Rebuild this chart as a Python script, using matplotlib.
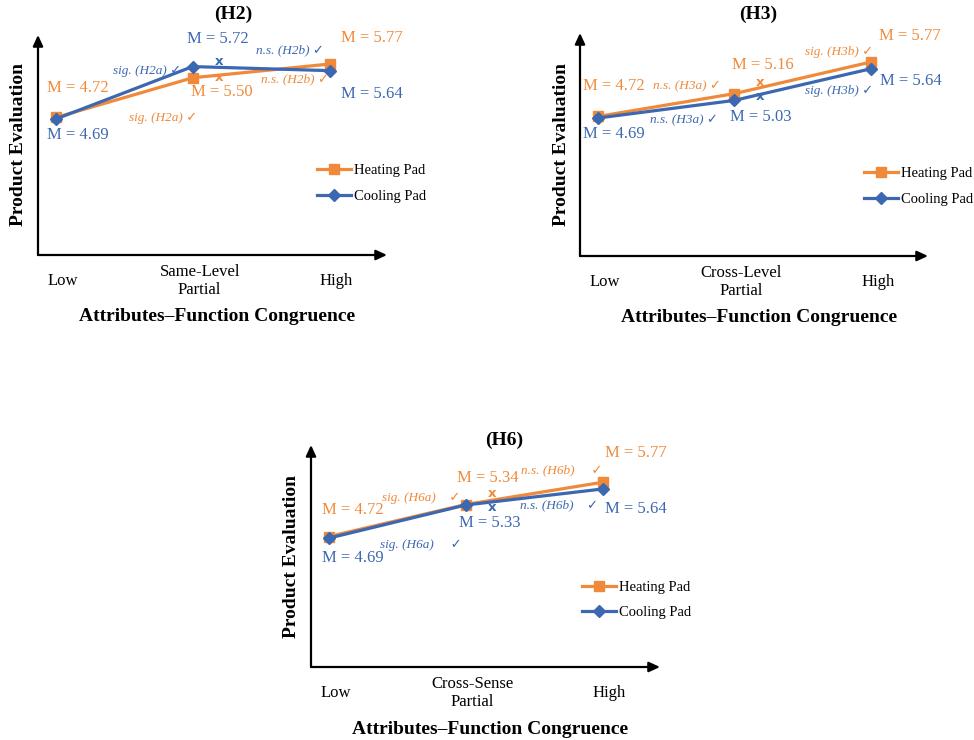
import matplotlib
matplotlib.use('Agg')
import matplotlib.pyplot as plt

# data
levels_h2 = ['Low', 'Same-Level\nPartial', 'High']
levels_h3 = ['Low', 'Cross-Level\nPartial', 'High']
levels_h6 = ['Low', 'Cross-Sense\nPartial', 'High']

heating_h2 = [4.72, 5.50, 5.77]
cooling_h2 = [4.69, 5.72, 5.64]
heating_h3 = [4.72, 5.16, 5.77]
cooling_h3 = [4.69, 5.03, 5.64]
heating_h6 = [4.72, 5.34, 5.77]
cooling_h6 = [4.69, 5.33, 5.64]

tests_h2 = ['sig. (H2a)', 'n.s. (H2b)']
tests_h3 = ['n.s. (H3a)', 'sig. (H3b)']
tests_h6 = ['sig. (H6a)', 'n.s. (H6b)']

ORANGE = '#F08A3A'
BLUE = '#3C68B1'
SERIF = ['Liberation Serif', 'DejaVu Serif']
CHECK = ['Liberation Serif', 'DejaVu Sans']

W, H = 974, 740

# panel layout in pixels: origin x, bottom y, right x, top y
panels = [
    dict(name='(H2)', levels=levels_h2, heat=heating_h2, cool=cooling_h2, tests=tests_h2,
         box=(38, 255, 387, 35), ylim=(2.02, 6.34), title=(195, 241),
         legend=(279, 71.5),
         mlab_heat=[(22, 30), (29, -14), (42, 26)],
         mlab_cool=[(22, -16), (25, 28), (42, -23)],
         notes=[('cool', 1, -11, -4, 0, ' '), ('heat', 1, 5, -40, 0, ' '),
                ('cool', 2, -6, 20, 1, ' '), ('heat', 2, -1, -15, 1, ' ')],
         xs=[('heat', 26, 0), ('cool', 26, 5)]),
    dict(name='(H3)', levels=levels_h3, heat=heating_h3, cool=cooling_h3, tests=tests_h3,
         box=(580, 256, 928, 33), ylim=(2.03, 6.33), title=(178, 242),
         legend=(284, 69.5),
         mlab_heat=[(16, 30), (29, 29), (39, 26)],
         mlab_cool=[(16, -16), (27, -17), (40, -12)],
         notes=[('heat', 1, -13, 7, 0, ' '), ('cool', 1, -16, -20, 0, ' '),
                ('heat', 2, 3, 10, 1, ' '), ('cool', 2, 3, -22, 1, ' ')],
         xs=[('heat', 26, 11), ('cool', 26, 4)]),
    dict(name='(H6)', levels=levels_h6, heat=heating_h6, cool=cooling_h6, tests=tests_h6,
         box=(311, 667, 660, 445), ylim=(2.20, 6.49), title=(193, 227),
         legend=(271, 67),
         mlab_heat=[(24, 27), (22, 27), (33, 29)],
         mlab_cool=[(24, -20), (24, -18), (33, -20)],
         notes=[('heat', 1, -5, 7, 0, '    '), ('cool', 1, -4, -40, 0, '     '),
                ('heat', 2, 0, 12, 1, '     '), ('cool', 2, -4, -16, 1, '    ')],
         xs=[('heat', 26, 11), ('cool', 26, -2)]),
]

fig = plt.figure(figsize=(W / 100, H / 100), dpi=100)

for p in panels:
    x0, yb, x1, yt = p['box']
    ax = fig.add_axes([x0 / W, 1 - yb / H, (x1 - x0) / W, (yb - yt) / H])
    ax.set_xlim(-0.13, 2.42)
    ax.set_ylim(*p['ylim'])
    for s in ax.spines.values():
        s.set_visible(False)
    ax.set_xticks([])
    ax.set_yticks([])
    ax.patch.set_alpha(0)

    arrow = dict(arrowstyle='-|>,head_length=0.65,head_width=0.3', lw=1.6,
                 color='black', shrinkA=0, shrinkB=0)
    ax.annotate('', xy=(0, 1), xytext=(0, 0), xycoords='axes fraction', arrowprops=arrow)
    ax.annotate('', xy=(1, 0), xytext=(0, 0), xycoords='axes fraction', arrowprops=arrow)

    xs = range(len(p['levels']))
    ax.plot(xs, p['heat'], color=ORANGE, lw=2.3, marker='s', ms=7.5,
            label='Heating Pad', clip_on=False, zorder=3)
    ax.plot(xs, p['cool'], color=BLUE, lw=2.3, marker='D', ms=6.5,
            label='Cooling Pad', clip_on=False, zorder=4)

    series = {'heat': (p['heat'], ORANGE), 'cool': (p['cool'], BLUE)}

    # mean labels
    for key, offs in (('heat', p['mlab_heat']), ('cool', p['mlab_cool'])):
        vals, col = series[key]
        for i, (v, (dx, dy)) in enumerate(zip(vals, offs)):
            ax.annotate(f'M = {v:.2f}', xy=(i, v), xytext=(dx, dy),
                        textcoords='offset pixels', ha='center', va='center',
                        color=col, fontsize=12, family=SERIF)

    # significance notes
    for key, i, dx, dy, t, gap in p['notes']:
        vals, col = series[key]
        ax.annotate(p['tests'][t] + gap + '\u2713', xy=(i, vals[i]), xytext=(dx, dy),
                    textcoords='offset pixels', ha='right', va='center',
                    color=col, fontsize=9.5, style='italic', family=CHECK)

    # crossed-out markers near the partial level
    for key, dx, dy in p['xs']:
        vals, col = series[key]
        ax.annotate('x', xy=(1, vals[1]), xytext=(dx, dy), textcoords='offset pixels',
                    ha='center', va='center', color=col, fontsize=9.5,
                    fontweight='bold', family='DejaVu Sans')

    # category labels
    for i, lab in enumerate(p['levels']):
        ax.annotate(lab, xy=(i, 0), xycoords=('data', 'axes fraction'),
                    xytext=(7, -26), textcoords='offset pixels', ha='center',
                    va='center', fontsize=12, family=SERIF, linespacing=1.15,
                    annotation_clip=False)

    ax.annotate('Attributes\u2013Function Congruence', xy=(0.5, 0), xycoords='axes fraction',
                xytext=(5, -62), textcoords='offset pixels', ha='center', va='center',
                fontsize=14, fontweight='bold', family=SERIF)
    ax.annotate('Product Evaluation', xy=(0, 0.5), xycoords='axes fraction',
                xytext=(-19, 0), textcoords='offset pixels', ha='center', va='center',
                rotation=90, fontsize=14, fontweight='bold', family=SERIF)
    ax.annotate(p['name'], xy=p['title'], xycoords='axes pixels', ha='center',
                va='center', fontsize=14, fontweight='bold', family=SERIF)

    lx, ly = p['legend']
    ax.legend(loc='center left', bbox_to_anchor=(lx / (x1 - x0), ly / (yb - yt)),
              frameon=False, borderpad=0, borderaxespad=0, handlelength=2.3,
              handletextpad=0.25, labelspacing=0.85,
              prop=dict(family=SERIF, size=10.5))

fig.savefig('out.png', dpi=100)
